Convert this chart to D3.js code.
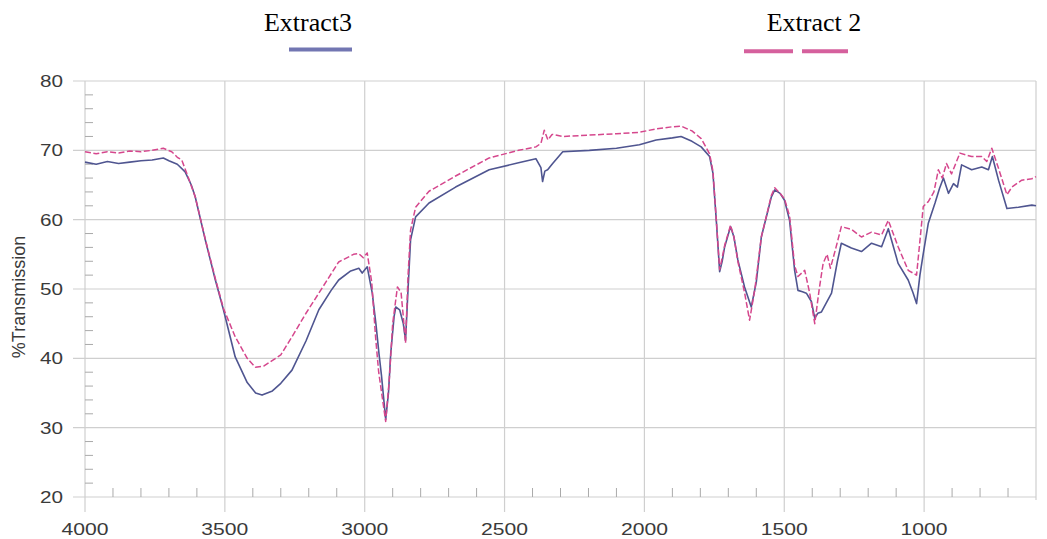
<!DOCTYPE html>
<html><head><meta charset="utf-8">
<script src="https://cdn.jsdelivr.net/npm/d3@7"></script>
<style>body{margin:0;background:#fff}svg{display:block}</style>
</head><body>
<svg id="c" width="1047" height="539"></svg>
<script>
// ---- data ----
const xTicks = [4000, 3500, 3000, 2500, 2000, 1500, 1000];
const yTicks = [20, 30, 40, 50, 60, 70, 80];
const seriesNames = ["Extract3", "Extract 2"];

const extract3Wn = [4000,3960,3920,3880,3840,3800,3760,3720,3700,3670,3642,3620,3606,3570,3534,3505,3463,3420,3390,3367,3330,3300,3260,3210,3164,3120,3093,3050,3021,3009,2991,2973,2960,2949,2940,2925,2915,2907,2895,2889,2875,2862,2854,2845,2836,2818,2770,2675,2555,2450,2388,2370,2364,2356,2346,2328,2292,2197,2100,2018,1958,1900,1869,1830,1797,1767,1755,1743,1731,1722,1713,1692,1680,1666,1642,1618,1600,1582,1546,1534,1515,1499,1481,1463,1451,1435,1421,1403,1391,1380,1367,1331,1310,1296,1260,1224,1188,1152,1128,1093,1057,1040,1027,1015,1003,985,961,945,931,913,895,881,866,830,794,770,756,734,704,663,615,600];
const extract3T = [68.3,68.0,68.4,68.1,68.3,68.5,68.6,68.9,68.5,68.0,66.9,65.0,63.3,57.1,51.3,47.0,40.2,36.5,35.0,34.7,35.3,36.4,38.3,42.5,47.0,49.8,51.3,52.6,53.0,52.3,53.2,49.4,45.0,40.7,37.5,31.2,35.0,40.7,46.0,47.4,47.0,45.0,42.6,50.0,57.1,60.4,62.4,64.7,67.2,68.2,68.8,67.5,65.5,67.0,67.2,68.1,69.8,70.0,70.3,70.8,71.5,71.8,72.0,71.3,70.5,69.1,66.7,59.9,52.5,54.0,56.1,59.0,57.5,54.2,50.3,47.4,51.0,57.5,63.3,64.3,63.8,62.8,59.9,52.7,49.8,49.6,49.4,48.2,45.8,46.5,46.7,49.4,54.0,56.6,55.9,55.4,56.6,56.1,58.7,53.7,51.3,49.5,47.9,52.0,55.1,59.5,62.4,64.5,66.0,63.8,65.2,64.7,67.9,67.2,67.6,67.2,69.1,65.7,61.6,61.8,62.1,62.0];

const extract2Wn = [4000,3960,3920,3880,3840,3800,3760,3720,3690,3670,3654,3630,3606,3570,3534,3505,3463,3420,3391,3360,3300,3260,3210,3164,3093,3040,3021,3005,2991,2975,2961,2950,2925,2912,2900,2883,2870,2862,2854,2845,2836,2818,2770,2675,2555,2450,2388,2370,2358,2345,2330,2292,2197,2100,2018,1958,1900,1869,1830,1797,1767,1755,1743,1731,1722,1713,1692,1680,1666,1642,1624,1605,1582,1546,1534,1515,1499,1481,1463,1451,1427,1409,1391,1375,1361,1347,1335,1315,1296,1260,1224,1188,1152,1128,1093,1057,1027,1003,985,965,949,935,920,902,872,830,794,776,758,734,704,686,651,615,600];
const extract2T = [69.8,69.5,69.8,69.6,69.9,69.8,70.0,70.3,69.8,69.0,68.6,66.0,63.3,57.2,51.5,47.2,43.1,40.0,38.7,38.9,40.5,43.1,46.5,49.4,53.9,55.0,55.1,54.5,55.2,51.0,43.0,38.0,30.9,37.0,45.0,50.3,49.5,46.0,42.2,52.0,58.5,61.8,64.1,66.3,68.9,70.0,70.5,71.0,72.9,71.5,72.3,72.0,72.2,72.4,72.6,73.1,73.4,73.5,72.8,71.7,69.5,67.0,60.0,52.8,54.5,56.3,59.2,57.5,54.0,49.5,45.5,50.0,57.5,63.5,64.6,63.8,63.0,60.5,53.4,51.8,52.7,49.4,45.0,50.0,53.7,55.0,53.0,56.0,59.0,58.6,57.5,58.2,57.8,59.9,56.1,52.7,52.0,61.9,62.6,64.0,67.2,66.0,68.1,66.6,69.6,69.1,69.1,68.4,70.3,67.4,63.6,64.7,65.7,65.9,66.2];

// ---- layout ----
const svg = d3.select("#c");
const L = 85, R = 1036, T = 81, B = 497;
const x = d3.scaleLinear().domain([4000, 600]).range([L, R]);
const y = d3.scaleLinear().domain([20, 80]).range([B, T]);
const gridCol = "#cfcfcf";

// horizontal gridlines
svg.append("g").selectAll("line").data(yTicks).join("line")
  .attr("x1", L - 12).attr("x2", R)
  .attr("y1", d => y(d)).attr("y2", d => y(d))
  .attr("stroke", gridCol).attr("stroke-width", 1.2);
// vertical gridlines
svg.append("g").selectAll("line").data(xTicks).join("line")
  .attr("x1", d => x(d)).attr("x2", d => x(d))
  .attr("y1", T).attr("y2", B + 15)
  .attr("stroke", gridCol).attr("stroke-width", 1.2);
// right border
svg.append("line").attr("x1", R).attr("x2", R).attr("y1", T).attr("y2", B + 3)
  .attr("stroke", gridCol).attr("stroke-width", 1.2);

// minor y ticks
const yMinor = d3.range(22, 80, 2).filter(v => v % 10 !== 0);
svg.append("g").selectAll("line").data(yMinor).join("line")
  .attr("x1", L).attr("x2", L + 8)
  .attr("y1", d => y(d)).attr("y2", d => y(d))
  .attr("stroke", "#aaa").attr("stroke-width", 1);
// minor x ticks
const xMinor = d3.range(3900, 600, -100).filter(v => v % 500 !== 0);
svg.append("g").selectAll("line").data(xMinor).join("line")
  .attr("x1", d => x(d)).attr("x2", d => x(d))
  .attr("y1", B - 9).attr("y2", B)
  .attr("stroke", "#aaa").attr("stroke-width", 1);

// tick labels
svg.append("g").selectAll("text").data(yTicks).join("text")
  .attr("x", 63).attr("y", d => y(d) + 6)
  .attr("text-anchor", "end")
  .attr("font-family", "Liberation Sans, Arial, sans-serif")
  .attr("font-size", 17).attr("fill", "#3a3a3a")
  .attr("textLength", 23).attr("lengthAdjust", "spacingAndGlyphs")
  .text(d => d);
svg.append("g").selectAll("text").data(xTicks).join("text")
  .attr("x", d => x(d)).attr("y", 535)
  .attr("text-anchor", "middle")
  .attr("font-family", "Liberation Sans, Arial, sans-serif")
  .attr("font-size", 17).attr("fill", "#3a3a3a")
  .attr("textLength", 47).attr("lengthAdjust", "spacingAndGlyphs")
  .text(d => d);

// y axis title
svg.append("text")
  .attr("transform", "translate(25,297) rotate(-90)")
  .attr("text-anchor", "middle")
  .attr("font-family", "Liberation Sans, Arial, sans-serif")
  .attr("font-size", 18).attr("fill", "#3a3a3a")
  .text("%Transmission");

// curves
const line = d3.line().x(d => x(d[0])).y(d => y(d[1]));
const blueData = extract3Wn.map((w, i) => [w, extract3T[i]]);
const pinkData = extract2Wn.map((w, i) => [w, extract2T[i]]);
svg.append("path").datum(blueData).attr("d", line)
  .attr("fill", "none").attr("stroke", "#4f5590").attr("stroke-width", 1.6)
  .attr("stroke-linejoin", "round");
svg.append("path").datum(pinkData).attr("d", line)
  .attr("fill", "none").attr("stroke", "#d5478d").attr("stroke-width", 1.5)
  .attr("stroke-dasharray", "6,2.5").attr("stroke-linejoin", "round");

// legend
svg.append("text").attr("x", 308).attr("y", 31).attr("text-anchor", "middle")
  .attr("font-family", "Liberation Serif, Times New Roman, serif")
  .attr("font-size", 26).attr("fill", "#000").text(seriesNames[0]);
svg.append("line").attr("x1", 289).attr("x2", 352).attr("y1", 49.5).attr("y2", 49.5)
  .attr("stroke", "#7276b2").attr("stroke-width", 4);
svg.append("text").attr("x", 814).attr("y", 31).attr("text-anchor", "middle")
  .attr("font-family", "Liberation Serif, Times New Roman, serif")
  .attr("font-size", 26).attr("fill", "#000").text(seriesNames[1]);
svg.append("line").attr("x1", 744).attr("x2", 848).attr("y1", 51.3).attr("y2", 51.3)
  .attr("stroke", "#d5609d").attr("stroke-width", 4)
  .attr("stroke-dasharray", "49,9");
</script>
</body></html>
